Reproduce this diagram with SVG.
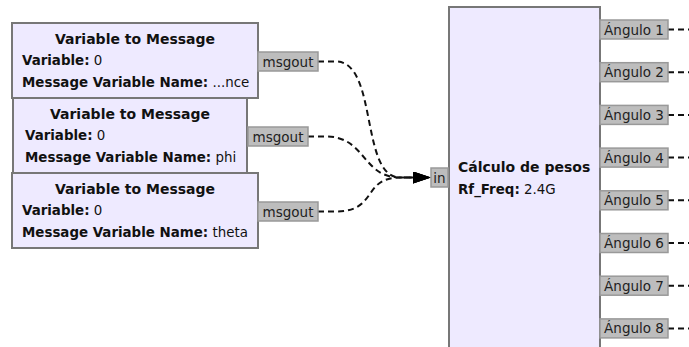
<svg xmlns="http://www.w3.org/2000/svg" width="689" height="347" viewBox="0 0 689 347">
<defs>
<style>
.blk{fill:#EEEAFF;stroke:#777;stroke-width:2}
.port{fill:#BDBDBD;stroke:#999;stroke-width:1.5}
.t{font-family:"DejaVu Sans",sans-serif;font-size:14px;font-weight:bold;fill:#111}
.b{font-family:"DejaVu Sans",sans-serif;font-size:13.4px;fill:#111}
.b tspan.k{font-weight:bold}
.pt{font-family:"DejaVu Sans",sans-serif;font-size:13.5px;fill:#222;text-anchor:middle}
.c{fill:none;stroke:#111;stroke-width:2;stroke-dasharray:6,4}
</style>
<marker id="arr" viewBox="0 0 18 12" refX="0" refY="6" markerWidth="18" markerHeight="12" markerUnits="userSpaceOnUse" orient="auto">
<path d="M0,0 L18,6 L0,12 Z" fill="#000"/>
</marker>
</defs>
<rect width="689" height="347" fill="#fff"/>

<g id="connectors">
<path class="c" d="M318,61.5 H336 C378,61.5 360,177.5 400,177.5 H413" marker-end="url(#arr)"/>
<path class="c" d="M308,136.5 H326 C366,136.5 362,177.5 400,177.5 H413" marker-end="url(#arr)"/>
<path class="c" d="M318,211.5 H336 C378,211.5 362,177.5 400,177.5 H413" marker-end="url(#arr)"/>
<path class="c" d="M668,29.5 H689"/>
<path class="c" d="M668,72.2 H689"/>
<path class="c" d="M668,114.9 H689"/>
<path class="c" d="M668,157.6 H689"/>
<path class="c" d="M668,200.3 H689"/>
<path class="c" d="M668,243 H689"/>
<path class="c" d="M668,285.7 H689"/>
<path class="c" d="M668,328.4 H689"/>
</g>

<g id="var_msg_1">
<rect class="blk" x="12" y="23" width="246" height="75"/>
<text class="t" x="135" y="44" text-anchor="middle">Variable to Message</text>
<text class="b" x="22" y="65"><tspan class="k">Variable:</tspan> 0</text>
<text class="b" x="22" y="87"><tspan class="k">Message Variable Name:</tspan> ...nce</text>
<rect class="port" x="258" y="52" width="60" height="19"/>
<text class="pt" x="288" y="66.5">msgout</text>
</g>

<g id="var_msg_2">
<rect class="blk" x="13" y="98" width="234" height="75"/>
<text class="t" x="130" y="119" text-anchor="middle">Variable to Message</text>
<text class="b" x="25" y="140"><tspan class="k">Variable:</tspan> 0</text>
<text class="b" x="25" y="162"><tspan class="k">Message Variable Name:</tspan> phi</text>
<rect class="port" x="248" y="127" width="60" height="19"/>
<text class="pt" x="278" y="141.5">msgout</text>
</g>

<g id="var_msg_3">
<rect class="blk" x="12" y="173" width="246" height="75"/>
<text class="t" x="135" y="194" text-anchor="middle">Variable to Message</text>
<text class="b" x="22" y="215"><tspan class="k">Variable:</tspan> 0</text>
<text class="b" x="22" y="237"><tspan class="k">Message Variable Name:</tspan> theta</text>
<rect class="port" x="258" y="202" width="60" height="19"/>
<text class="pt" x="288" y="216.5">msgout</text>
</g>

<g id="calculo_pesos">
<rect class="blk" x="449" y="7" width="151" height="350"/>
<text class="t" x="458" y="172">Cálculo de pesos</text>
<text class="b" x="458" y="194"><tspan class="k">Rf_Freq:</tspan> 2.4G</text>
<rect class="port" x="431" y="168" width="17" height="19"/>
<text class="pt" x="439.5" y="182.5">in</text>
<rect class="port" x="600" y="20" width="68" height="19"/>
<text class="pt" x="634" y="34.5">Ángulo 1</text>
<rect class="port" x="600" y="62.7" width="68" height="19"/>
<text class="pt" x="634" y="77.2">Ángulo 2</text>
<rect class="port" x="600" y="105.4" width="68" height="19"/>
<text class="pt" x="634" y="119.9">Ángulo 3</text>
<rect class="port" x="600" y="148.1" width="68" height="19"/>
<text class="pt" x="634" y="162.6">Ángulo 4</text>
<rect class="port" x="600" y="190.8" width="68" height="19"/>
<text class="pt" x="634" y="205.3">Ángulo 5</text>
<rect class="port" x="600" y="233.5" width="68" height="19"/>
<text class="pt" x="634" y="248">Ángulo 6</text>
<rect class="port" x="600" y="276.2" width="68" height="19"/>
<text class="pt" x="634" y="290.7">Ángulo 7</text>
<rect class="port" x="600" y="318.9" width="68" height="19"/>
<text class="pt" x="634" y="333.4">Ángulo 8</text>
</g>
</svg>
